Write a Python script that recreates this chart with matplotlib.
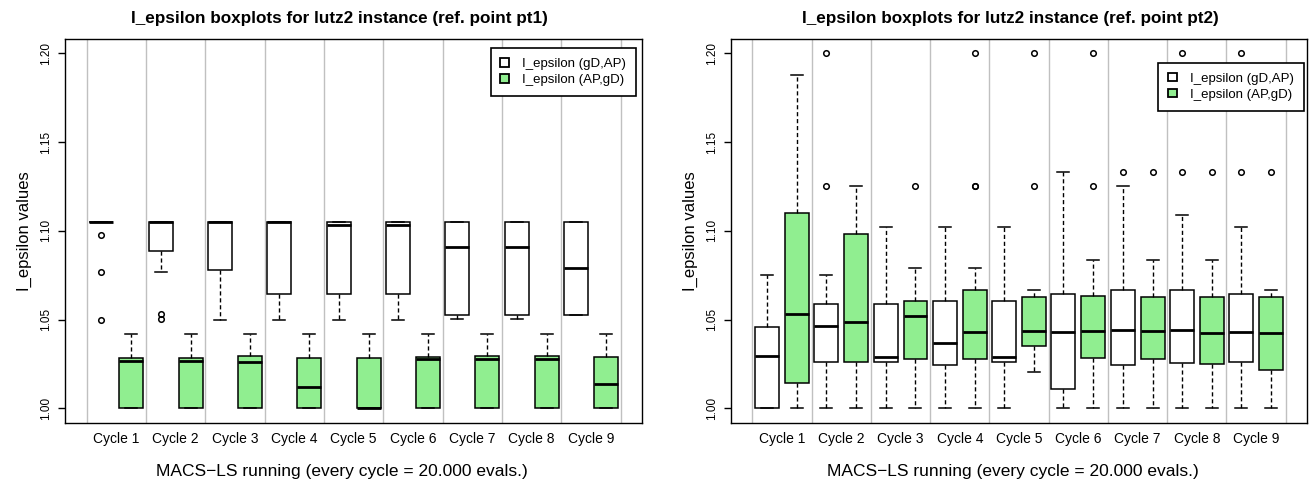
import matplotlib
matplotlib.use("Agg")
from matplotlib import pyplot as plt
from matplotlib.patches import Patch

plt.rcParams["font.family"] = ["Liberation Sans", "DejaVu Sans"]

CYCLES = ["Cycle 1", "Cycle 2", "Cycle 3", "Cycle 4", "Cycle 5",
          "Cycle 6", "Cycle 7", "Cycle 8", "Cycle 9"]
SERIES = ["I_epsilon (gD,AP)", "I_epsilon (AP,gD)"]
COLORS = ["white", "#90ee90"]

# ref. point pt1, I_epsilon (gD,AP)
PT1_GDAP_LO = [1.105, 1.077, 1.050, 1.050, 1.050, 1.050, 1.0504, 1.0504, 1.0525]
PT1_GDAP_Q1 = [1.105, 1.0887, 1.0782, 1.0647, 1.0647, 1.0647, 1.0525, 1.0525, 1.0525]
PT1_GDAP_MED = [1.105, 1.105, 1.105, 1.105, 1.1035, 1.1035, 1.0909, 1.0909, 1.079]
PT1_GDAP_Q3 = [1.105, 1.105, 1.105, 1.105, 1.105, 1.105, 1.105, 1.105, 1.105]
PT1_GDAP_HI = [1.105, 1.105, 1.105, 1.105, 1.105, 1.105, 1.105, 1.105, 1.105]
PT1_GDAP_OUT = [[1.0975, 1.077, 1.050], [1.053, 1.0505], [], [], [], [], [], [], []]

# ref. point pt1, I_epsilon (AP,gD)
PT1_APGD_LO = [1.0, 1.0, 1.0, 1.0, 1.0, 1.0, 1.0, 1.0, 1.0]
PT1_APGD_Q1 = [1.0, 1.0, 1.0, 1.0, 1.0, 1.0, 1.0, 1.0, 1.0]
PT1_APGD_MED = [1.0266, 1.0266, 1.0264, 1.0122, 1.0, 1.0276, 1.028, 1.028, 1.014]
PT1_APGD_Q3 = [1.0285, 1.0285, 1.0294, 1.0285, 1.0285, 1.029, 1.0294, 1.0294, 1.029]
PT1_APGD_HI = [1.0418, 1.0418, 1.0418, 1.0418, 1.0418, 1.0418, 1.0418, 1.0418, 1.0418]
PT1_APGD_OUT = [[], [], [], [], [], [], [], [], []]

# ref. point pt2, I_epsilon (gD,AP)
PT2_GDAP_LO = [1.0, 1.0, 1.0, 1.0, 1.0, 1.0, 1.0, 1.0, 1.0]
PT2_GDAP_Q1 = [1.0, 1.026, 1.026, 1.0242, 1.026, 1.0112, 1.0247, 1.0257, 1.0262]
PT2_GDAP_MED = [1.0294, 1.0467, 1.0287, 1.0366, 1.029, 1.0431, 1.0444, 1.0444, 1.0431]
PT2_GDAP_Q3 = [1.0457, 1.0587, 1.0587, 1.0606, 1.0606, 1.0647, 1.0668, 1.0668, 1.0647]
PT2_GDAP_HI = [1.075, 1.075, 1.1024, 1.1024, 1.1024, 1.1333, 1.125, 1.1087, 1.1024]
PT2_GDAP_OUT = [[], [1.2, 1.125], [], [], [], [], [1.1333], [1.2, 1.1333], [1.2, 1.1333]]

# ref. point pt2, I_epsilon (AP,gD)
PT2_APGD_LO = [1.0, 1.0, 1.0, 1.0, 1.0206, 1.0, 1.0, 1.0, 1.0]
PT2_APGD_Q1 = [1.0144, 1.026, 1.0281, 1.0281, 1.035, 1.0285, 1.0281, 1.0251, 1.0219]
PT2_APGD_MED = [1.0534, 1.0486, 1.0519, 1.0431, 1.0435, 1.0435, 1.0435, 1.0422, 1.0426]
PT2_APGD_Q3 = [1.110, 1.0982, 1.0606, 1.0668, 1.0626, 1.0632, 1.0626, 1.0626, 1.0626]
PT2_APGD_HI = [1.1875, 1.125, 1.0789, 1.0789, 1.0668, 1.0836, 1.0836, 1.0836, 1.0668]
PT2_APGD_OUT = [[], [], [1.125], [1.2, 1.125, 1.125], [1.2, 1.125], [1.2, 1.125],
                [1.1333], [1.1333], [1.1333]]

YTICKS = [1.00, 1.05, 1.10, 1.15, 1.20]

OFFSET = 0.2525
WIDTH = 0.404


def make_stats(lo, q1, med, q3, hi, out):
    stats = []
    for i in range(len(lo)):
        stats.append({"whislo": lo[i], "q1": q1[i], "med": med[i],
                      "q3": q3[i], "whishi": hi[i], "fliers": out[i]})
    return stats


def draw_panel(ax, groups, title, legend_anchor, text_x):
    for x in range(len(CYCLES) + 1):
        ax.axvline(x + 0.5, color="#c0c0c0", lw=1.0, zorder=0)

    for k, stats in enumerate(groups):
        shift = -OFFSET if k == 0 else OFFSET
        pos = [i + 1 + shift for i in range(len(stats))]
        ax.bxp(stats, positions=pos, widths=WIDTH, patch_artist=True,
               capwidths=WIDTH * 0.5, manage_ticks=False,
               boxprops=dict(facecolor=COLORS[k], edgecolor="black", linewidth=1.1),
               medianprops=dict(color="black", linewidth=2.0),
               whiskerprops=dict(color="black", linewidth=1.0, linestyle=(0, (3, 2))),
               capprops=dict(color="black", linewidth=1.1),
               flierprops=dict(marker="o", markersize=4, markerfacecolor="none",
                               markeredgecolor="black", markeredgewidth=1.1))

    ax.set_xlim(0.135, 9.865)
    ax.set_ylim(0.992, 1.208)
    ax.set_xticks(range(1, len(CYCLES) + 1))
    ax.set_xticklabels(CYCLES, fontsize=10)
    ax.tick_params(axis="x", length=0, pad=7)
    ax.set_yticks(YTICKS)
    ax.set_yticklabels(["%.2f" % v for v in YTICKS], rotation=90, va="center", fontsize=8.5)
    ax.tick_params(axis="y", length=5, width=1, pad=4)
    for s in ax.spines.values():
        s.set_linewidth(1.0)

    ax.set_title(title, fontsize=12.3, fontweight="bold", pad=11.5, x=text_x)
    ax.set_xlabel("MACS\u2212LS running (every cycle = 20.000 evals.)", fontsize=12.5,
                  labelpad=13, x=text_x + 0.005)
    ax.set_ylabel("I_epsilon values", fontsize=12, labelpad=6)

    handles = [Patch(facecolor=COLORS[k], edgecolor="black", linewidth=1.3, label=SERIES[k])
               for k in range(2)]
    leg = ax.legend(handles=handles, loc="upper right", bbox_to_anchor=legend_anchor,
                    fontsize=9.5, frameon=True, fancybox=False, framealpha=1,
                    edgecolor="black", handlelength=0.65, handleheight=0.65,
                    handletextpad=1.0, borderpad=0.75, labelspacing=0.3,
                    borderaxespad=0)
    leg.get_frame().set_linewidth(1.2)


fig = plt.figure(figsize=(13.1, 4.84), dpi=100)
ax1 = fig.add_axes([0.0496, 0.1267, 0.4407, 0.7928])
ax2 = fig.add_axes([0.5578, 0.1267, 0.4402, 0.7928])

draw_panel(ax1,
           [make_stats(PT1_GDAP_LO, PT1_GDAP_Q1, PT1_GDAP_MED, PT1_GDAP_Q3, PT1_GDAP_HI, PT1_GDAP_OUT),
            make_stats(PT1_APGD_LO, PT1_APGD_Q1, PT1_APGD_MED, PT1_APGD_Q3, PT1_APGD_HI, PT1_APGD_OUT)],
           "I_epsilon boxplots for lutz2 instance (ref. point pt1)", (0.989, 0.976), 0.475)
draw_panel(ax2,
           [make_stats(PT2_GDAP_LO, PT2_GDAP_Q1, PT2_GDAP_MED, PT2_GDAP_Q3, PT2_GDAP_HI, PT2_GDAP_OUT),
            make_stats(PT2_APGD_LO, PT2_APGD_Q1, PT2_APGD_MED, PT2_APGD_Q3, PT2_APGD_HI, PT2_APGD_OUT)],
           "I_epsilon boxplots for lutz2 instance (ref. point pt2)", (0.994, 0.938), 0.485)

fig.savefig("out.png", dpi=100)
